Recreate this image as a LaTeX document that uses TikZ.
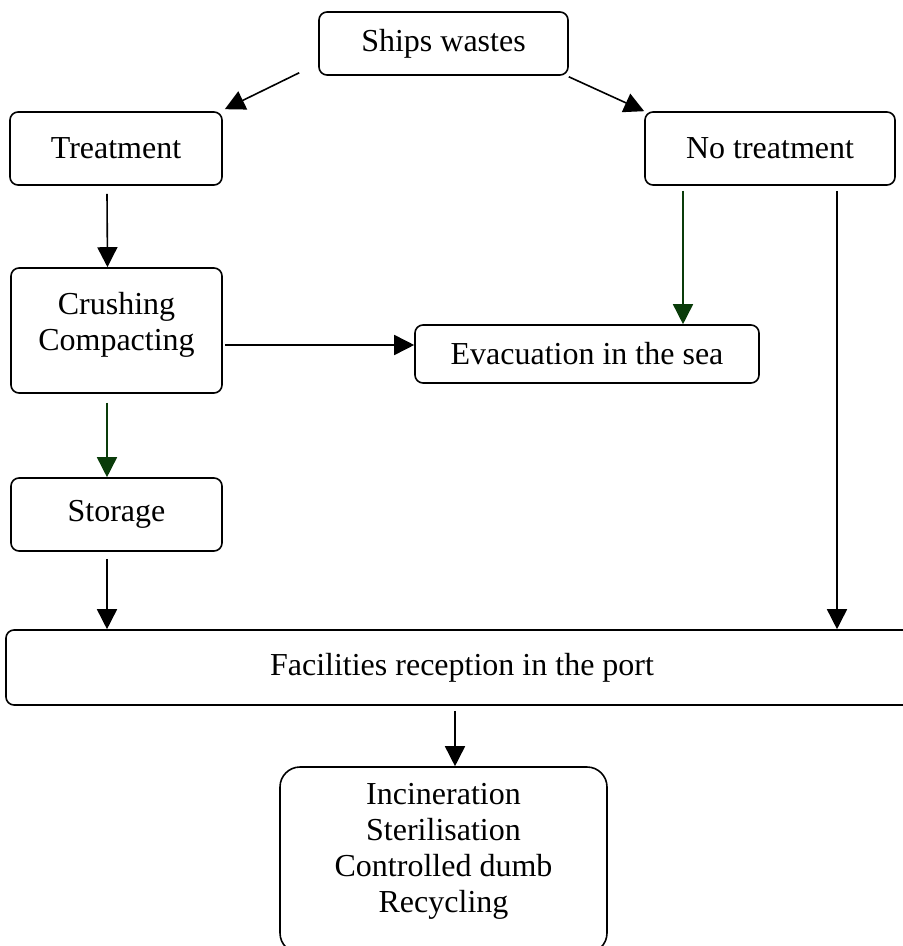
\documentclass[tikz,border=0pt]{standalone}
\usepackage{fontspec}
\setmainfont{Liberation Serif}
\usetikzlibrary{arrows.meta}
\definecolor{darkgreen}{RGB}{10,60,10}

\begin{document}
\begin{tikzpicture}[x=0.5pt, y=-0.5pt, line width=0.8pt]
    \tikzstyle{box}=[draw, rounded corners=4pt, align=center, inner sep=0pt, font=\fontsize{16}{18}\selectfont]
    \tikzstyle{arr}=[-{Triangle[length=10pt,width=10pt]}]
    \tikzstyle{garr}=[arr, draw=darkgreen, fill=darkgreen]

    \useasboundingbox (0,0) rectangle (902,946);

% The boxes of the flow chart, from the wastes down to the final handling.

    \node[box, minimum width=124.5pt, minimum height=31.5pt] (ships) at (443.5,43.5) {Ships wastes};
    \node[box, minimum width=106pt, minimum height=36.5pt] (treat) at (116,148.5) {Treatment};
    \node[box, minimum width=125pt, minimum height=36.5pt] (notreat) at (770,148.5) {No treatment};
    \node[box, minimum width=105.5pt, minimum height=62.5pt] (crush) at (116.5,330.5) {Crushing\\Compacting\\[-9pt]\mbox{}};
    \node[box, minimum width=172pt, minimum height=29pt] (evac) at (587,354) {Evacuation in the sea};
    \node[box, minimum width=105.5pt, minimum height=36.5pt] (store) at (116.5,514.5) {Storage};
    \node[box, minimum width=456pt, minimum height=37.5pt] (port) at (462,667.5) {Facilities reception in the port};
    \node[box, rounded corners=10pt, minimum width=163.5pt, minimum height=93pt] (final) at (443.5,860) {Incineration\\Sterilisation\\Controlled dumb\\Recycling\\[-6pt]\mbox{}};

    \draw[arr] ([shift={(-19,-3)}]ships.south west) -- ([shift={(2,-2)}]treat.north east);
    \draw[arr] ([shift={(0,1)}]ships.south east) -- (notreat.north west);
    \draw[arr] ([shift={(-9,8)}]treat.south) -- ([xshift=-4.5pt]crush.north);
    \draw[arr] ([shift={(2,14.5)}]crush.east) -- ([yshift=-7.25pt]evac.west |- crush.east);
    \draw[garr] ([shift={(-87,5)}]notreat.south) -- ([xshift=-43.5pt]evac.north -| notreat.south);
    \draw[garr] ([shift={(-9.5,9)}]crush.south) -- ([xshift=-4.75pt]store.north);
    \draw[arr] ([shift={(-9.5,7)}]store.south) -- ([xshift=-4.75pt]port.north -| store.south);
    \draw[arr] ([shift={(67,5)}]notreat.south) -- ([xshift=33.5pt]port.north -| notreat.south);
    \draw[arr] ([shift={(-7,5)}]port.south) -- ([xshift=-3.5pt]final.north -| port.south);

\end{tikzpicture}
\end{document}
